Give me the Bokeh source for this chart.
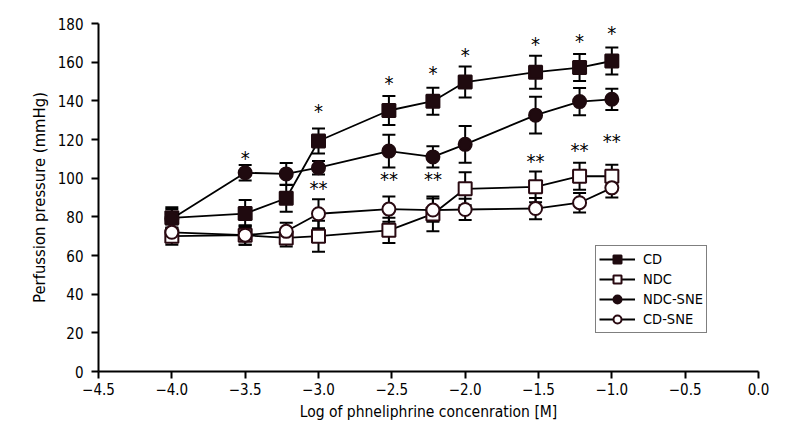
from bokeh.plotting import figure
from bokeh.models import (ColumnDataSource, Whisker, TeeHead, Legend, LegendItem,
                          FixedTicker, CustomJSTickFormatter, Range1d)
from bokeh.core.properties import value
from bokeh.embed import file_html
from bokeh.resources import INLINE

# ---- data ----
log_conc = [-4.0, -3.5, -3.22, -3.0, -2.52, -2.22, -2.0, -1.52, -1.22, -1.0]

cd_mean = [79.5, 81.7, 89.6, 119.2, 135.0, 139.8, 149.7, 154.8, 157.2, 160.6]
cd_err = [5.5, 7.0, 7.0, 6.5, 7.5, 7.0, 8.0, 8.5, 7.0, 7.0]

ndc_mean = [70.0, 70.5, 69.1, 70.0, 73.0, 81.5, 94.5, 95.5, 101.0, 101.0]
ndc_err = [4.5, 5.0, 4.5, 8.0, 6.5, 9.0, 8.5, 8.0, 7.0, 6.0]

ndcsne_mean = [79.0, 102.8, 102.2, 105.4, 114.0, 111.0, 117.5, 132.6, 139.6, 140.8]
ndcsne_err = [5.0, 4.0, 5.7, 3.5, 8.5, 5.5, 9.5, 9.5, 7.0, 5.5]

cdsne_mean = [72.0, 70.5, 72.5, 81.6, 84.0, 83.5, 83.8, 84.3, 87.3, 95.0]
cdsne_err = [4.0, 5.0, 4.5, 7.5, 6.5, 6.0, 5.5, 5.5, 5.0, 5.0]

# significance markers (anchor in data units)
star1_x = [-3.5, -3.0, -2.52, -2.22, -2.0, -1.52, -1.22, -1.0]
star1_y = [112.0, 136.5, 151.0, 155.8, 165.4, 171.0, 172.3, 176.7]
star2_x = [-3.0, -2.52, -2.22, -1.52, -1.22, -1.0]
star2_y = [96.7, 101.0, 101.0, 110.5, 116.0, 121.0]

x_ticks = [-4.5, -4.0, -3.5, -3.0, -2.5, -2.0, -1.5, -1.0, -0.5, 0.0]
y_ticks = [0, 20, 40, 60, 80, 100, 120, 140, 160, 180]

series = [
    ("CD", cd_mean, cd_err, "square", "#1f0a0f", "#1f0a0f"),
    ("NDC", ndc_mean, ndc_err, "square", "white", "#2a0a12"),
    ("NDC-SNE", ndcsne_mean, ndcsne_err, "circle", "#1f0a0f", "#1f0a0f"),
    ("CD-SNE", cdsne_mean, cdsne_err, "circle", "white", "#2a0a12"),
]

FONT = "'DejaVu Sans Condensed', 'Liberation Sans Narrow', sans-serif"

p = figure(width=790, height=436, output_backend="svg", toolbar_location=None,
           x_range=Range1d(-4.5, 0.0), y_range=Range1d(0, 180),
           min_border_left=98, min_border_right=32, min_border_top=23, min_border_bottom=65)
p.outline_line_color = None
p.xgrid.visible = False
p.ygrid.visible = False
p.background_fill_color = "white"
p.border_fill_color = "white"

fmt = CustomJSTickFormatter(code="""
    const s = Math.abs(tick).toFixed(1);
    return (tick < -1e-9 ? '\\u2212' : '') + s;
""")
p.xaxis.ticker = FixedTicker(ticks=x_ticks)
p.xaxis.formatter = fmt
p.yaxis.ticker = FixedTicker(ticks=y_ticks)

for ax in (p.xaxis, p.yaxis):
    ax.axis_line_width = 2
    ax.axis_line_color = "black"
    ax.major_tick_line_width = 2
    ax.major_tick_line_color = "black"
    ax.major_tick_out = 7
    ax.major_tick_in = 0
    ax.minor_tick_line_color = None
    ax.major_label_text_font = FONT
    ax.major_label_text_font_size = "15px"
    ax.major_label_text_color = "black"
    ax.axis_label_text_font = FONT
    ax.axis_label_text_font_style = "normal"
    ax.axis_label_text_color = "black"

p.xaxis.axis_label = "Log of phneliphrine concenration [M]"
p.yaxis.axis_label = "Perfussion pressure (mmHg)"
p.xaxis.axis_label_text_font_size = "15.5px"
p.yaxis.axis_label_text_font_size = "16.5px"
p.xaxis.major_label_standoff = 4
p.xaxis.axis_label_standoff = 5
p.yaxis.major_label_standoff = 8
p.yaxis.axis_label_standoff = 6

items = []
for name, mean, err, marker, fill, line in series:
    src = ColumnDataSource(dict(
        x=log_conc, y=mean,
        upper=[m + e for m, e in zip(mean, err)],
        lower=[m - e for m, e in zip(mean, err)],
    ))
    w = Whisker(source=src, base="x", upper="upper", lower="lower",
                line_color="black", line_width=2, level="underlay",
                upper_head=TeeHead(size=13, line_width=2, line_color="black"),
                lower_head=TeeHead(size=13, line_width=2, line_color="black"))
    p.add_layout(w)
    ln = p.line("x", "y", source=src, line_color="black", line_width=1.8)
    mk = p.scatter("x", "y", source=src, marker=marker, size=13,
                   fill_color=fill, line_color=line, line_width=2)
    items.append(LegendItem(label=name, renderers=[ln, mk]))

p.text(x=star1_x, y=star1_y, text=["*"] * len(star1_x), text_align="center",
       text_baseline="middle", text_font=value(FONT), text_font_size="20px",
       y_offset=3, text_color="black")
p.text(x=star2_x, y=star2_y, text=["**"] * len(star2_x), text_align="center",
       text_baseline="middle", text_font=value(FONT), text_font_size="20px",
       y_offset=3, text_color="black")

legend = Legend(items=items, location=(497, 38))
legend.border_line_color = "black"
legend.border_line_width = 1.5
legend.background_fill_color = "white"
legend.padding = 3
legend.spacing = 0
legend.margin = 0
legend.glyph_width = 36
legend.glyph_height = 20
legend.label_height = 20
legend.label_standoff = 8
legend.label_text_font = FONT
legend.label_text_font_size = "14.5px"
legend.label_text_color = "black"
p.add_layout(legend, "center")

open("out.html", "w").write(file_html(p, INLINE))
